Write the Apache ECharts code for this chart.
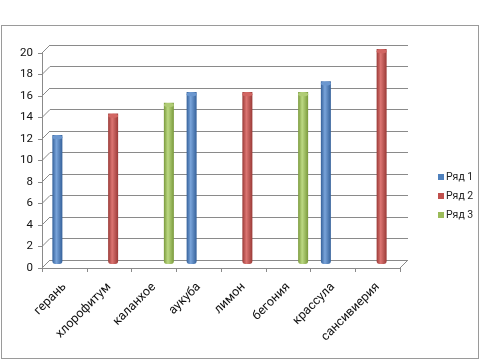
<!DOCTYPE html>
<html>
<head>
<meta charset="utf-8">
<script src="https://cdn.jsdelivr.net/npm/echarts@6/dist/echarts.min.js"></script>
<style>
html,body{margin:0;padding:0;background:#fff;}
#chart{position:absolute;left:0;top:0;width:480px;height:360px;}
#frame{position:absolute;left:1px;top:25px;width:476px;height:332px;border:1.5px solid #9a9a9a;pointer-events:none;}
</style>
</head>
<body>
<div id="chart"></div>
<div id="frame"></div>
<script>
// ---- data ----
const categories = ['герань','хлорофитум','каланхое','аукуба','лимон','бегония','крассула','сансивиерия'];
const seriesNames = ['Ряд 1','Ряд 2','Ряд 3'];
const series1 = [12, null, null, 16, null, null, 17, null];
const series2 = [null, 14, null, null, 16, null, null, 20];
const series3 = [null, null, 15, null, null, 16, null, null];
const yTickValues = [0,2,4,6,8,10,12,14,16,18,20];

// ---- style / layout ----
const FONT = 'Roboto';
const DEPTH = 8;
const front = {left:42, top:53, width:358, height:215};
const mid = {left:front.left+DEPTH/2, top:front.top-DEPTH/2, width:front.width, height:front.height};
const back = {left:front.left+DEPTH, top:front.top-DEPTH, width:front.width, height:front.height};
const gridColor = '#8a8a8a';
const palettes = [
  {dark:'#35619a', light:'#79a4da', base:'#4F81BD', cap:'#6b97cf'},
  {dark:'#9a3a37', light:'#dc7572', base:'#C0504D', cap:'#d26663'},
  {dark:'#7a9a3c', light:'#bcd983', base:'#9BBB59', cap:'#b0cc76'}
];
const yMin = yTickValues[0], yMax = yTickValues[yTickValues.length-1], yInt = yTickValues[1]-yTickValues[0];

function cyl(p){
  return new echarts.graphic.LinearGradient(0,0,1,0,[
    {offset:0,color:p.dark},{offset:0.4,color:p.light},{offset:1,color:p.dark}
  ]);
}
const allData = [series1, series2, series3];

const chart = echarts.init(document.getElementById('chart'), null, {renderer:'canvas'});
const hiddenCat = (gi)=>({type:'category', gridIndex:gi, data:categories, show:false, boundaryGap:true});
const hiddenVal = (gi, split)=>({type:'value', gridIndex:gi, min:yMin, max:yMax, interval:yInt,
  axisLine:{show:false}, axisTick:{show:false}, axisLabel:{show:false},
  splitLine:{show:split, lineStyle:{color:gridColor, width:1}}});

const option = {
  animation:false,
  backgroundColor:'#fff',
  grid:[
    Object.assign({containLabel:false}, front),
    Object.assign({containLabel:false}, back),
    Object.assign({containLabel:false}, mid)
  ],
  xAxis:[
    {type:'category', gridIndex:0, data:categories, boundaryGap:true,
      axisLine:{show:true, lineStyle:{color:gridColor, width:1}},
      axisTick:{show:true, length:4, alignWithLabel:false, lineStyle:{color:gridColor}},
      axisLabel:{rotate:45, margin:17, fontFamily:FONT, fontSize:12.5, color:'#111', interval:0}},
    hiddenCat(1),
    hiddenCat(2)
  ],
  yAxis:[
    {type:'value', gridIndex:0, min:yMin, max:yMax, interval:yInt,
      axisLine:{show:true, lineStyle:{color:gridColor, width:1}},
      axisTick:{show:true, length:4, lineStyle:{color:gridColor}},
      splitLine:{show:false},
      axisLabel:{margin:9, fontFamily:FONT, fontSize:11.5, color:'#111'}},
    hiddenVal(1, true),
    hiddenVal(2, false)
  ],
  legend:{
    orient:'vertical', left:433, top:165,
    itemWidth:6, itemHeight:6, itemGap:5, icon:'rect',
    textStyle:{fontFamily:FONT, fontSize:10.5, color:'#222', lineHeight:14, padding:[0,0,0,-3]},
    data:seriesNames.map((n,i)=>({name:n, itemStyle:{color:palettes[i].base}}))
  },
  series:[
    // 3D wall/floor connector edges
    {type:'custom', xAxisIndex:0, yAxisIndex:0, silent:true, clip:false, z:1,
      data:yTickValues.map(v=>[0,v]),
      encode:{x:0, y:1},
      renderItem:function(params, api){
        const v = api.value(1);
        const c = api.coord([0, v]);
        const half = api.size([1,0])[0]/2;
        const x0 = c[0]-half;
        const children = [{type:'line', shape:{x1:x0, y1:c[1], x2:x0+DEPTH, y2:c[1]-DEPTH},
          style:{stroke:gridColor, lineWidth:1}}];
        if (v === yMin){
          const r = api.coord([categories.length-1, v]);
          const x1 = r[0]+half;
          children.push({type:'line', shape:{x1:x1, y1:r[1], x2:x1+DEPTH, y2:r[1]-DEPTH},
            style:{stroke:gridColor, lineWidth:1}});
        }
        return {type:'group', children:children};
      }
    }
  ].concat(seriesNames.map((name,i)=>({
    name:name, type:'bar', xAxisIndex:2, yAxisIndex:2, data:allData[i],
    barWidth:10, barGap:'10%', z:3,
    itemStyle:{color:cyl(palettes[i]), borderRadius:[0,0,3,3]},
    color:palettes[i].base
  }))).concat(seriesNames.map((name,i)=>({
    name:name+'_cap', type:'pictorialBar', xAxisIndex:2, yAxisIndex:2, data:allData[i],
    barWidth:10, barGap:'10%', z:4, silent:true,
    symbol:'circle', symbolSize:[10,4], symbolPosition:'end', symbolOffset:[0,0],
    itemStyle:{color:palettes[i].cap, borderColor:palettes[i].dark, borderWidth:0.5}
  })))
};
chart.setOption(option);
</script>
</body>
</html>
